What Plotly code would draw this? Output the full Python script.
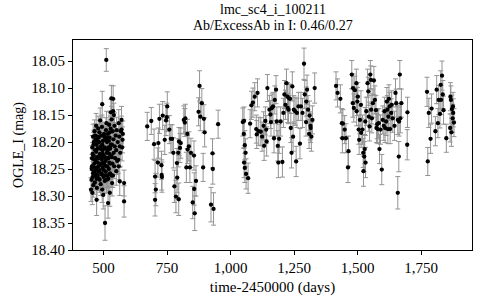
import plotly.graph_objects as go

# ---- Season 1 (readable isolated points + dense core) ----
t1 = [511, 495, 531, 538, 512, 529, 538, 571, 571, 575, 564, 558, 560, 550, 564, 581, 581, 473, 506, 518,
      499, 495, 451, 456, 525, 534, 512,
      453, 454, 455, 456, 457, 458, 459, 460, 461, 462,
      463, 464, 465, 466, 467, 468, 469, 470, 471, 472,
      473, 474, 475, 476, 477, 478, 479, 480, 481, 482,
      483, 484, 485, 486, 487, 488, 489, 490, 491, 492,
      493, 494, 496, 497, 498, 500, 501, 502, 503, 504,
      505, 507, 508, 509, 510, 513, 514, 515, 516, 517,
      519, 520, 521, 522, 523, 524, 526, 527, 528, 530,
      532, 533, 535, 536, 537, 539, 540, 541, 542, 543,
      544, 546, 548, 550, 552, 554, 556, 560, 562, 566,
      568, 573, 576]
m1 = [18.048, 18.130, 18.119, 18.120, 18.165, 18.145, 18.143, 18.159, 18.177, 18.196, 18.208, 18.233, 18.245,
      18.254, 18.273, 18.276, 18.310, 18.307, 18.350, 18.313, 18.298, 18.288, 18.288, 18.294, 18.294, 18.276, 18.270,
      18.270, 18.250, 18.230, 18.210, 18.265, 18.245, 18.190, 18.280, 18.225, 18.200,
      18.255, 18.240, 18.180, 18.275, 18.215, 18.260, 18.195, 18.235, 18.170, 18.250,
      18.205, 18.285, 18.228, 18.190, 18.262, 18.212, 18.175, 18.245, 18.230, 18.268,
      18.200, 18.182, 18.252, 18.222, 18.160, 18.240, 18.278, 18.208, 18.188, 18.258,
      18.232, 18.172, 18.215, 18.248, 18.198, 18.265, 18.225, 18.185, 18.242, 18.210,
      18.272, 18.195, 18.235, 18.255, 18.178, 18.220, 18.200, 18.245, 18.262, 18.185,
      18.230, 18.210, 18.250, 18.168, 18.238, 18.192, 18.258, 18.212, 18.175, 18.225,
      18.158, 18.205, 18.240, 18.180, 18.262, 18.195, 18.220, 18.150, 18.245, 18.170,
      18.208, 18.230, 18.188, 18.215, 18.178, 18.235, 18.200, 18.165, 18.190, 18.220,
      18.180, 18.210, 18.185]
e1 = [0.021, 0.024, 0.024, 0.024, 0.022, 0.024, 0.022, 0.025, 0.025, 0.024, 0.024, 0.025, 0.025, 0.026,
      0.026, 0.024, 0.029, 0.029, 0.032, 0.028, 0.026, 0.024, 0.022, 0.022, 0.025, 0.024, 0.023,
      0.022, 0.021, 0.023, 0.022, 0.021, 0.022, 0.023, 0.022, 0.021, 0.022,
      0.023, 0.022, 0.021, 0.022, 0.023, 0.022, 0.021, 0.022, 0.023, 0.022,
      0.021, 0.022, 0.023, 0.022, 0.021, 0.022, 0.023, 0.022, 0.021, 0.022,
      0.023, 0.022, 0.021, 0.022, 0.023, 0.022, 0.021, 0.022, 0.023, 0.022,
      0.021, 0.022, 0.023, 0.022, 0.021, 0.022, 0.023, 0.022, 0.021, 0.022,
      0.023, 0.022, 0.021, 0.022, 0.023, 0.022, 0.021, 0.022, 0.023, 0.022,
      0.024, 0.022, 0.023, 0.024, 0.022, 0.023, 0.024, 0.022, 0.023, 0.024,
      0.024, 0.022, 0.023, 0.024, 0.022, 0.023, 0.024, 0.022, 0.023, 0.024,
      0.024, 0.025, 0.024, 0.025, 0.024, 0.025, 0.024, 0.025, 0.024, 0.025,
      0.024, 0.025, 0.024]

# extra overlapping points inside the densest part of season 1
t1c = [455, 457, 459, 461, 463, 465, 467, 469, 471, 473,
       475, 477, 479, 481, 483, 485, 487, 489, 491, 493,
       495, 497, 499, 501, 503, 505, 507, 509, 511, 513,
       515, 517, 519, 521, 523, 525, 527, 529, 531, 533]
m1c = [18.245, 18.222, 18.258, 18.205, 18.232, 18.262, 18.188, 18.248, 18.218, 18.268,
       18.198, 18.238, 18.255, 18.192, 18.226, 18.270, 18.212, 18.242, 18.228, 18.260,
       18.205, 18.222, 18.238, 18.252, 18.190, 18.228, 18.262, 18.212, 18.245, 18.192,
       18.230, 18.215, 18.268, 18.198, 18.222, 18.182, 18.240, 18.205, 18.262, 18.228]
e1c = [0.022, 0.021, 0.022, 0.023, 0.022, 0.021, 0.022, 0.023, 0.022, 0.021,
       0.022, 0.023, 0.022, 0.021, 0.022, 0.023, 0.022, 0.021, 0.022, 0.023,
       0.022, 0.021, 0.022, 0.023, 0.022, 0.021, 0.022, 0.023, 0.022, 0.021,
       0.022, 0.023, 0.022, 0.021, 0.022, 0.023, 0.022, 0.021, 0.022, 0.023]

# ---- Season 2 ----
t2 = [672, 688, 699, 703, 706, 703, 714, 716, 720, 728, 729, 730, 733, 741, 746, 751, 749, 759, 765, 770,
      775, 779, 785, 789, 790, 794, 797, 796, 801, 804, 816, 820, 822, 826, 830, 831, 836, 840, 844, 851,
      856, 857, 859, 864, 874, 878, 887, 881, 895, 898, 892, 929, 930, 923, 933, 951]
m2 = [18.171, 18.161, 18.204, 18.264, 18.288, 18.307, 18.238, 18.202, 18.157, 18.243, 18.261, 18.265, 18.151,
      18.196, 18.160, 18.134, 18.154, 18.177, 18.194, 18.194, 18.220, 18.282, 18.301, 18.239, 18.266, 18.220,
      18.199, 18.306, 18.211, 18.202, 18.159, 18.164, 18.156, 18.247, 18.185, 18.214, 18.208, 18.247, 18.220,
      18.312, 18.225, 18.287, 18.332, 18.272, 18.144, 18.096, 18.128, 18.153, 18.157, 18.182, 18.247, 18.221,
      18.250, 18.316, 18.324, 18.167]
e2 = [0.026, 0.025, 0.028, 0.030, 0.030, 0.030, 0.027, 0.028, 0.027, 0.026,
      0.028, 0.028, 0.026, 0.027, 0.028, 0.027, 0.026, 0.026, 0.026, 0.026,
      0.028, 0.030, 0.030, 0.027, 0.028, 0.026, 0.026, 0.030, 0.027, 0.028,
      0.026, 0.026, 0.026, 0.028, 0.027, 0.026, 0.027, 0.028, 0.027, 0.030,
      0.027, 0.030, 0.032, 0.028, 0.026, 0.028, 0.027, 0.026, 0.026, 0.027,
      0.026, 0.027, 0.028, 0.032, 0.030, 0.026]

# ---- Season 3 ----
t3 = [1048, 1053, 1052, 1056, 1059, 1053, 1061, 1069, 1056, 1077, 1082, 1088, 1095, 1106, 1103, 1101, 1111,
      1119, 1124, 1130, 1132, 1137, 1140, 1145, 1142, 1153, 1157, 1159, 1163, 1167, 1171, 1174, 1179, 1182,
      1186, 1188, 1191, 1197, 1204, 1208, 1212, 1216, 1220, 1224, 1225, 1228, 1230, 1234, 1237, 1240, 1243,
      1246, 1249, 1254, 1258, 1261, 1267, 1273, 1277, 1283, 1289, 1292, 1297, 1298, 1301, 1305, 1309, 1311,
      1314, 1315, 1318, 1322, 1331]
m3 = [18.163, 18.161, 18.185, 18.206, 18.220, 18.238, 18.259, 18.267, 18.248, 18.166, 18.132, 18.127, 18.116,
      18.109, 18.186, 18.176, 18.180, 18.181, 18.190, 18.170, 18.207, 18.161, 18.177, 18.100, 18.199, 18.140,
      18.149, 18.163, 18.137, 18.134, 18.193, 18.122, 18.103, 18.162, 18.207, 18.238, 18.194, 18.162, 18.237,
      18.146, 18.112, 18.131, 18.091, 18.116, 18.137, 18.140, 18.119, 18.120, 18.174, 18.220, 18.097, 18.190,
      18.140, 18.143, 18.236, 18.146, 18.134, 18.203, 18.134, 18.146, 18.055, 18.112, 18.163, 18.125, 18.103,
      18.140, 18.185, 18.151, 18.170, 18.174, 18.190, 18.159, 18.100]
e3 = [0.026, 0.026, 0.027, 0.027, 0.026, 0.028, 0.028, 0.028, 0.027, 0.026,
      0.026, 0.027, 0.026, 0.026, 0.026, 0.026, 0.026, 0.026, 0.027, 0.026,
      0.027, 0.026, 0.026, 0.025, 0.027, 0.026, 0.026, 0.026, 0.026, 0.026,
      0.027, 0.026, 0.026, 0.027, 0.028, 0.028, 0.027, 0.027, 0.028, 0.027,
      0.026, 0.027, 0.026, 0.026, 0.027, 0.026, 0.026, 0.027, 0.027, 0.028,
      0.027, 0.027, 0.026, 0.026, 0.028, 0.027, 0.026, 0.028, 0.026, 0.027,
      0.029, 0.026, 0.026, 0.027, 0.027, 0.026, 0.027, 0.027, 0.026, 0.027,
      0.027, 0.026, 0.028]

# ---- Season 4 ----
t4 = [1415, 1421, 1432, 1438, 1442, 1440, 1449, 1454, 1464, 1462, 1477, 1481, 1482, 1485, 1489, 1495, 1496,
      1499, 1501, 1504, 1506, 1509, 1513, 1514, 1519, 1522, 1523, 1526, 1528, 1530, 1531, 1534, 1539, 1542,
      1544, 1547, 1550, 1552, 1553, 1556, 1560, 1564, 1568, 1572, 1574, 1577, 1579, 1583, 1586, 1590, 1595,
      1599, 1603, 1606, 1608, 1612, 1615, 1617, 1619, 1621, 1623, 1626, 1628, 1632, 1634, 1638, 1645, 1649,
      1652, 1658, 1662, 1663, 1666, 1668, 1672, 1658, 1696, 1695]
m4 = [18.096, 18.109, 18.120, 18.165, 18.166, 18.193, 18.177, 18.193, 18.217, 18.247, 18.075, 18.128, 18.100,
      18.137, 18.104, 18.091, 18.143, 18.125, 18.116, 18.177, 18.196, 18.159, 18.131, 18.183, 18.177, 18.220,
      18.254, 18.227, 18.213, 18.162, 18.238, 18.143, 18.091, 18.106, 18.153, 18.171, 18.075, 18.085, 18.140,
      18.156, 18.128, 18.086, 18.122, 18.141, 18.174, 18.167, 18.176, 18.165, 18.213, 18.177, 18.251, 18.159,
      18.170, 18.143, 18.174, 18.162, 18.125, 18.140, 18.176, 18.153, 18.120, 18.134, 18.176, 18.146, 18.131,
      18.156, 18.170, 18.109, 18.128, 18.159, 18.227, 18.162, 18.075, 18.156, 18.128, 18.294, 18.145, 18.205]
e4 = [0.026, 0.026, 0.026, 0.027, 0.026, 0.027, 0.026, 0.027, 0.028, 0.028,
      0.026, 0.026, 0.026, 0.026, 0.026, 0.026, 0.027, 0.026, 0.026, 0.027,
      0.027, 0.026, 0.026, 0.027, 0.027, 0.027, 0.028, 0.028, 0.027, 0.026,
      0.028, 0.026, 0.026, 0.026, 0.027, 0.027, 0.026, 0.026, 0.026, 0.027,
      0.026, 0.026, 0.026, 0.027, 0.027, 0.027, 0.027, 0.027, 0.027, 0.027,
      0.028, 0.026, 0.027, 0.026, 0.027, 0.026, 0.026, 0.026, 0.027, 0.026,
      0.026, 0.026, 0.027, 0.026, 0.026, 0.026, 0.027, 0.026, 0.026, 0.027,
      0.028, 0.027, 0.026, 0.027, 0.026, 0.030, 0.028, 0.028]

# ---- Season 5 ----
t5 = [1773, 1776, 1780, 1787, 1791, 1806, 1811, 1816, 1819, 1824, 1827, 1828, 1832, 1835, 1838, 1849, 1865,
      1867, 1864, 1869, 1871, 1874, 1876, 1879, 1875]
m5 = [18.107, 18.236, 18.146, 18.194, 18.138, 18.180, 18.103, 18.165, 18.122, 18.148, 18.094, 18.122, 18.077,
      18.112, 18.141, 18.193, 18.116, 18.122, 18.174, 18.182, 18.139, 18.156, 18.146, 18.164, 18.134]
e5 = [0.027, 0.026, 0.027, 0.027, 0.027, 0.027, 0.026, 0.027, 0.027, 0.026,
      0.026, 0.027, 0.027, 0.026, 0.026, 0.026, 0.026, 0.026, 0.026, 0.026,
      0.026, 0.026, 0.026, 0.026, 0.026]

x_ticks = [500, 750, 1000, 1250, 1500, 1750]
x_tick_labels = ["500", "750", "1,000", "1,250", "1,500", "1,750"]
y_ticks = [18.05, 18.10, 18.15, 18.20, 18.25, 18.30, 18.35, 18.40]
y_tick_labels = ["18.05", "18.10", "18.15", "18.20", "18.25", "18.30", "18.35", "18.40"]

t_all = t1 + t1c + t2 + t3 + t4 + t5
m_all = m1 + m1c + m2 + m3 + m4 + m5
e_all = e1 + e1c + e2 + e3 + e4 + e5

FONT = "Liberation Serif"

fig = go.Figure()
fig.add_trace(go.Scatter(
    x=t_all, y=m_all, mode="markers",
    marker=dict(color="black", size=4.3, line=dict(width=0)),
    error_y=dict(type="data", array=e_all, visible=True, color="#939393", thickness=1, width=2.5),
    showlegend=False,
))

axis_common = dict(showline=True, linecolor="black", linewidth=1, mirror=True,
                   ticks="outside", ticklen=4, tickcolor="black", showgrid=False, zeroline=False,
                   tickfont=dict(family=FONT, size=15, color="black"))

fig.update_layout(
    width=480, height=300,
    margin=dict(l=73, r=8, t=40, b=50, autoexpand=False),
    paper_bgcolor="white", plot_bgcolor="white",
    font=dict(family=FONT, color="black"),
    xaxis=dict(range=[380, 1950], tickvals=x_ticks, ticktext=x_tick_labels,
               title=dict(text="time-2450000 (days)", font=dict(family=FONT, size=15), standoff=6),
               automargin=False, **axis_common),
    yaxis=dict(range=[18.40, 18.011], tickvals=y_ticks, ticktext=y_tick_labels,
               title=dict(text="OGLE_I (mag)", font=dict(family=FONT, size=14), standoff=4),
               automargin=False, **axis_common),
    annotations=[
        dict(text="lmc_sc4_i_100211", xref="paper", yref="paper", x=0.5, y=1.143,
             xanchor="center", yanchor="middle", showarrow=False, font=dict(family=FONT, size=14)),
        dict(text="Ab/ExcessAb in I: 0.46/0.27", xref="paper", yref="paper", x=0.5, y=1.069,
             xanchor="center", yanchor="middle", showarrow=False, font=dict(family=FONT, size=14)),
    ],
)

# remove the default 8 px page margin so the 480x300 figure fills the window exactly
fig.write_html("out.html", config={"displayModeBar": False},
               post_script="document.body.style.margin='0';")
